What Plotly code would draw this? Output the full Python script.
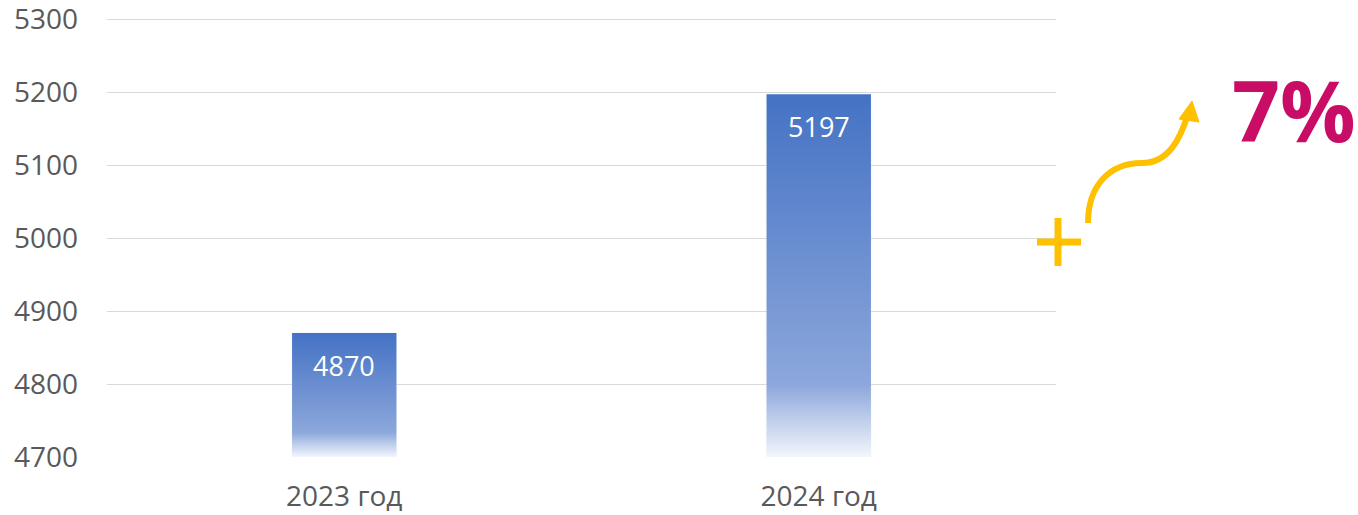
import plotly.graph_objects as go

categories = ["2023 год", "2024 год"]
values = [4870, 5197]
y_min, y_max, y_step = 4700, 5300, 100
growth_label = "7%"

W, H = 1358, 515
L, R, T, B = 107, 302, 17, 58
pw, ph = W - L - R, H - T - B
y_top = y_max + (ph - 438) / 438 * (y_max - y_min)

def px(x):
    return (x - L) / pw

def py(y):
    return (H - B - y) / ph

bar_w = 0.22
xs = list(range(len(categories)))
tick_vals = list(range(y_min, y_max + 1, y_step))

fig = go.Figure()

# real bar trace (transparent) for semantics/hover
fig.add_trace(go.Bar(x=xs, y=[v - y_min for v in values], base=y_min, width=bar_w,
                     marker=dict(color="rgba(0,0,0,0)"), hoverinfo="skip", showlegend=False))

# gradient-filled bars
for i, v in zip(xs, values):
    fig.add_trace(go.Scatter(
        x=[i - bar_w / 2, i + bar_w / 2, i + bar_w / 2, i - bar_w / 2, i - bar_w / 2],
        y=[y_min, y_min, v, v, y_min],
        mode="lines", line=dict(width=0), fill="toself",
        fillgradient=dict(type="vertical",
                          colorscale=[[0, "#F3F6FC"], [0.2, "#8CA7DB"], [1, "#4472C4"]],
                          start=y_min, stop=v),
        hoverinfo="skip", showlegend=False))

annotations = []
for i, v in zip(xs, values):
    annotations.append(dict(x=i, y=v, xref="x", yref="y", text=str(v), showarrow=False,
                            yanchor="top", yshift=-12,
                            font=dict(family="Open Sans", size=27, color="white")))

annotations.append(dict(x=px(1294), y=py(109), xref="paper", yref="paper", text="<b>" + growth_label + "</b>",
                        showarrow=False, xanchor="center", yanchor="middle",
                        font=dict(family="Open Sans", size=84, color="#C90C66")))

yellow = "#FFC000"
shapes = [
    dict(type="line", xref="paper", yref="paper", x0=px(1037), x1=px(1081), y0=py(242), y1=py(242),
         line=dict(color=yellow, width=7)),
    dict(type="line", xref="paper", yref="paper", x0=px(1058), x1=px(1058), y0=py(218), y1=py(266),
         line=dict(color=yellow, width=7)),
]

def P(x, y):
    return f"{px(x):.5f},{py(y):.5f}"

curve = (f"M {P(1088,223)} C {P(1088,185)} {P(1110,163)} {P(1142,163)} "
         f"C {P(1168,163)} {P(1180,140)} {P(1188,114)}")
shapes.append(dict(type="path", xref="paper", yref="paper", path=curve,
                   line=dict(color=yellow, width=6)))
head = f"M {P(1192,101)} L {P(1199,122)} L {P(1179,119)} Z"
shapes.append(dict(type="path", xref="paper", yref="paper", path=head,
                   fillcolor=yellow, line=dict(color=yellow, width=1)))

fig.update_layout(
    width=W, height=H,
    margin=dict(l=L, r=R, t=T, b=B, autoexpand=False),
    paper_bgcolor="white", plot_bgcolor="white",
    font=dict(family="Open Sans", color="#595959", size=27),
    showlegend=False,
    annotations=annotations,
    shapes=shapes,
    xaxis=dict(range=[-0.5, len(categories) - 0.5], tickmode="array", tickvals=xs, ticktext=categories,
               showgrid=False, zeroline=False, showline=False, ticks="", automargin=False,
               ticklabeloverflow="allow",
               tickfont=dict(size=28, color="#595959"), ticklabelstandoff=20),
    yaxis=dict(range=[y_min, y_top], tickmode="array", tickvals=tick_vals,
               ticktext=[str(t) for t in tick_vals], showgrid=True, gridcolor="#D9D9D9",
               gridwidth=1, zeroline=False, showline=False, ticks="", automargin=False,
               ticklabeloverflow="allow",
               tickfont=dict(size=28, color="#595959"), ticklabelstandoff=28),
    bargap=0.78,
)

fig.write_html("out.html", config={"displayModeBar": False},
               post_script="document.body.style.margin='0';document.body.style.padding='0';document.body.style.overflow='hidden';")
